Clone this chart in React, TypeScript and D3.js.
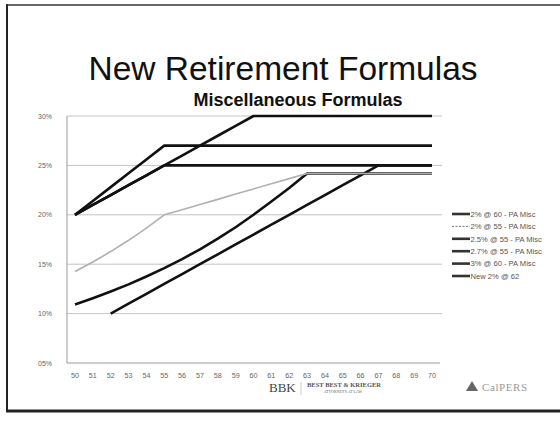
import * as d3 from "d3";

const W = 560;
const H = 424;

// ages on the x axis
const ages = [50, 51, 52, 53, 54, 55, 56, 57, 58, 59, 60, 61, 62, 63, 64, 65, 66, 67, 68, 69, 70];
const yTicks = [5, 10, 15, 20, 25, 30];
const yTickLabels = ["05%", "10%", "15%", "20%", "25%", "30%"];

// benefit factor (% of pay per year of service) by age
const s2at60 = [1.092, 1.156, 1.224, 1.296, 1.376, 1.46, 1.552, 1.65, 1.758, 1.874, 2.0, 2.134, 2.272, 2.418, 2.418, 2.418, 2.418, 2.418, 2.418, 2.418, 2.418];
const s2at55 = [1.426, 1.522, 1.628, 1.742, 1.866, 2.0, 2.052, 2.104, 2.156, 2.21, 2.262, 2.314, 2.366, 2.418, 2.418, 2.418, 2.418, 2.418, 2.418, 2.418, 2.418];
const s25at55 = [2.0, 2.1, 2.2, 2.3, 2.4, 2.5, 2.5, 2.5, 2.5, 2.5, 2.5, 2.5, 2.5, 2.5, 2.5, 2.5, 2.5, 2.5, 2.5, 2.5, 2.5];
const s27at55 = [2.0, 2.14, 2.28, 2.42, 2.56, 2.7, 2.7, 2.7, 2.7, 2.7, 2.7, 2.7, 2.7, 2.7, 2.7, 2.7, 2.7, 2.7, 2.7, 2.7, 2.7];
const s3at60 = [2.0, 2.1, 2.2, 2.3, 2.4, 2.5, 2.6, 2.7, 2.8, 2.9, 3.0, 3.0, 3.0, 3.0, 3.0, 3.0, 3.0, 3.0, 3.0, 3.0, 3.0];
const sNew62 = [null, null, 1.0, 1.1, 1.2, 1.3, 1.4, 1.5, 1.6, 1.7, 1.8, 1.9, 2.0, 2.1, 2.2, 2.3, 2.4, 2.5, 2.5, 2.5, 2.5];

const seriesNames = [
  "2% @ 60 - PA Misc",
  "2% @ 55 - PA Misc",
  "2.5% @ 55 - PA Misc",
  "2.7% @ 55 - PA Misc",
  "3% @ 60 - PA Misc",
  "New 2% @ 62",
];
const seriesValues = [s2at60, s2at55, s25at55, s27at55, s3at60, sNew62];
const seriesColors = ["#111", "#b0b0b0", "#111", "#111", "#111", "#111"];

const x = d3.scalePoint<number>().domain(ages).range([75, 432]);
const y = d3.scaleLinear().domain([5, 30]).range([363, 116]);

const line = d3
  .line<number | null>()
  .defined((d) => d != null)
  .x((_, i) => x(ages[i]) as number)
  .y((d) => y((d as number) * 10));

export default function App() {
  // gray series drawn last so its flat tail covers the 2% @ 60 tail
  const order = [0, 2, 3, 4, 5, 1];
  return (
    <svg
      width={W}
      height={H}
      style={{ position: "absolute", left: 0, top: 0, background: "#fff" }}
      fontFamily="Liberation Sans, Arial, sans-serif"
    >
      {/* slide frame */}
      <line x1={7} y1={4} x2={7} y2={412} stroke="#222" strokeWidth={2} />
      <line x1={6} y1={5} x2={560} y2={5} stroke="#333" strokeWidth={1.5} />
      <line x1={6} y1={411} x2={560} y2={411} stroke="#222" strokeWidth={3} />

      <text x={283} y={80} textAnchor="middle" fontSize={33.5} fill="#111">
        New Retirement Formulas
      </text>
      <text x={298} y={106} textAnchor="middle" fontSize={18} fontWeight="bold" fill="#111">
        Miscellaneous Formulas
      </text>

      {/* grid */}
      {yTicks.map((t, i) => (
        <g key={t}>
          <line
            x1={67}
            x2={i === 0 ? 440 : 442}
            y1={y(t)}
            y2={y(t)}
            stroke={i === 0 ? "#999" : "#c4c4c4"}
            strokeWidth={1}
          />
          <text x={38} y={y(t) + 2.5} fontSize={7} fill="#666" textAnchor="start">
            {yTickLabels[i]}
          </text>
        </g>
      ))}
      <line x1={67} x2={67} y1={116} y2={363} stroke="#999" strokeWidth={1} />
      {ages.map((a) => (
        <text key={a} x={x(a)} y={378} fontSize={7.2} fill="#666" textAnchor="middle">
          {a}
        </text>
      ))}

      {/* series */}
      {order.map((i) => (
        <path
          key={seriesNames[i]}
          d={line(seriesValues[i]) || ""}
          fill="none"
          stroke={seriesColors[i]}
          strokeWidth={i === 1 ? 1.6 : 2.6}
          strokeLinejoin="round"
        />
      ))}

      {/* legend */}
      {seriesNames.map((n, i) => (
        <g key={n} transform={`translate(452, ${214 + i * 12.4})`}>
          <line
            x1={0}
            x2={18}
            y1={0}
            y2={0}
            stroke={i === 1 ? "#777" : "#333"}
            strokeWidth={i === 1 ? 1 : 2.6}
            strokeDasharray={i === 1 ? "2,1.5" : undefined}
          />
          <text x={18.5} y={2.8} fontSize={7.6} fill="#555">
            {n}
          </text>
        </g>
      ))}

      {/* footer logos */}
      <text x={269} y={392} fontSize={13} fontFamily="Liberation Serif, serif" fill="#444">
        BBK
      </text>
      <line x1={301} x2={301} y1={382} y2={395} stroke="#ccc" />
      <text x={307} y={387} fontSize={6.5} fontWeight="bold" fontFamily="Liberation Serif, serif" fill="#555">
        BEST BEST &amp; KRIEGER
      </text>
      <text x={343} y={393} fontSize={4} textAnchor="middle" fontFamily="Liberation Serif, serif" fill="#666">
        ATTORNEYS AT LAW
      </text>
      <path d="M466,391 L472,381 L478,391 Z" fill="#666" />
      <text x={482} y={391} fontSize={11} letterSpacing={0.6} fontFamily="Liberation Serif, serif" fill="#999">
        CalPERS
      </text>
    </svg>
  );
}
